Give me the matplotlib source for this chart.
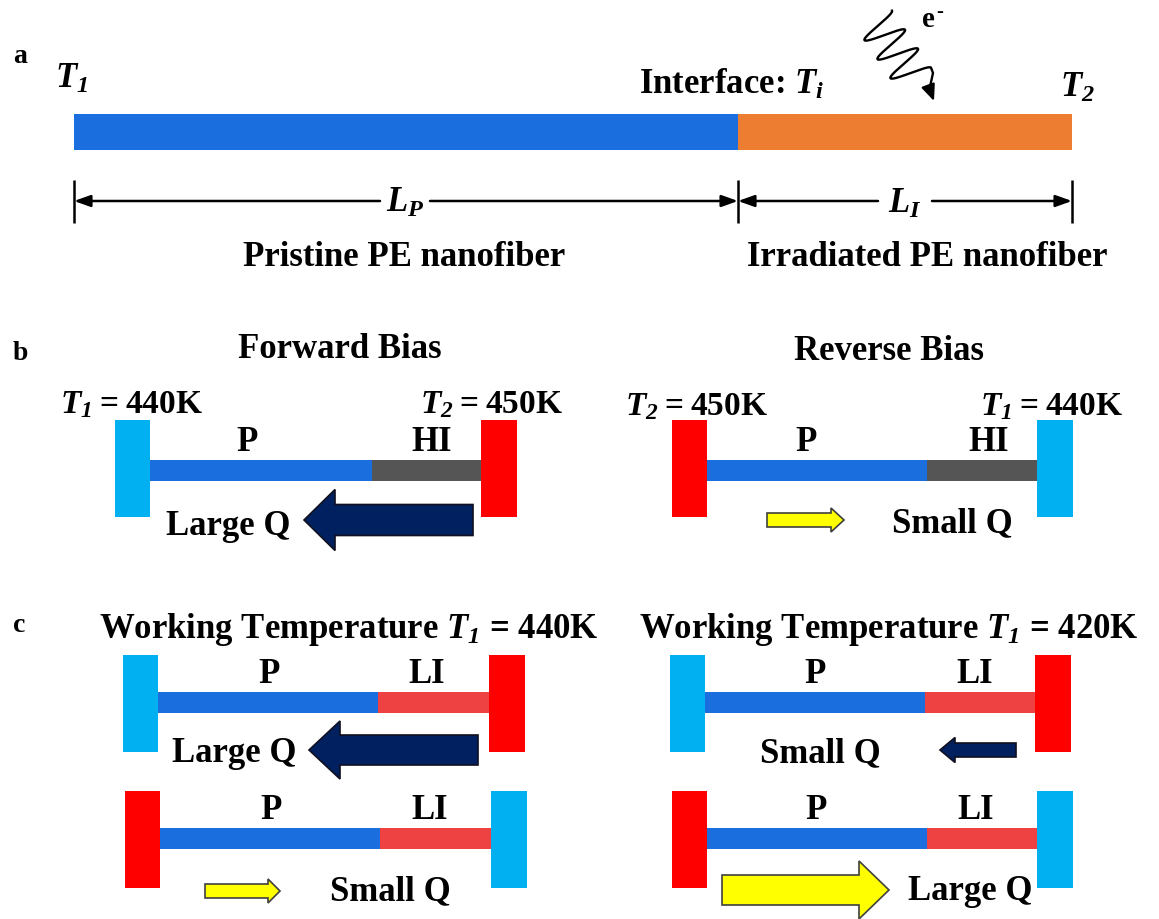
import numpy as np
import matplotlib.pyplot as plt
from matplotlib.patches import Rectangle, Polygon

# pyright: reportUnknownMemberType=false

plt.rcParams["font.family"] = ["Liberation Serif", "DejaVu Serif"]
plt.rcParams["font.weight"] = "bold"
plt.rcParams["mathtext.fontset"] = "custom"
plt.rcParams["mathtext.rm"] = "Liberation Serif:bold"
plt.rcParams["mathtext.it"] = "Liberation Serif:italic:bold"
plt.rcParams["mathtext.bf"] = "Liberation Serif:bold"
# italic digits for subscripts (\mathit sends digits back to roman)
plt.rcParams["mathtext.sf"] = "Liberation Serif:italic:bold"

W, H = 1159, 919
FS = 25

C_PRISTINE = "#1B6EDD"
C_IRRAD = "#ED7D31"
C_COLD = "#00B0F0"
C_HOT = "#FF0000"
C_HI = "#555555"
C_LI = "#EE4242"
C_NAVY = "#002060"
C_YELLOW = "#FFFF00"

# panel a
a_fibres = ["Pristine PE nanofiber", "Irradiated PE nanofiber"]
a_lengths = [r"$L_P$", r"$L_I$"]
a_temps = [r"$T_\mathsf{1}$", r"Interface: $T_i$", r"$T_\mathsf{2}$"]

# panel b
b_titles = ["Forward Bias", "Reverse Bias"]
b_temps = [
    [r"$T_\mathsf{1}$" + "\u2009=\u2009440K", r"$T_\mathsf{2}$" + "\u2009=\u2009450K"],
    [r"$T_\mathsf{2}$" + "\u2009=\u2009450K", r"$T_\mathsf{1}$" + "\u2009=\u2009440K"],
]
b_segments = ["P", "HI"]
b_heat = ["Large Q", "Small Q"]

# panel c
c_titles = [
    r"Working Temperature $T_\mathsf{1}$ = 440K",
    r"Working Temperature $T_\mathsf{1}$ = 420K",
]
c_segments = ["P", "LI"]
c_heat = [["Large Q", "Small Q"], ["Small Q", "Large Q"]]


def txt(ax, x, y, s, size=FS, ha="center"):
    ax.text(x, y, s, fontsize=size, ha=ha, va="baseline", fontweight="bold")


def rod(ax, x0, xs, x1, y, thick, colours):
    ax.add_patch(Rectangle((x0, y), xs - x0, thick, fc=colours[0], lw=0))
    ax.add_patch(Rectangle((xs, y), x1 - xs, thick, fc=colours[1], lw=0))


def block(ax, x, y, w, h, colour):
    ax.add_patch(Rectangle((x, y), w, h, fc=colour, lw=0))


def block_arrow(ax, x_tail, x_tip, yc, shaft, head, head_len, fc, ec):
    d = 1 if x_tip > x_tail else -1
    xb = x_tip - d * head_len
    pts = [
        (x_tail, yc - shaft / 2), (xb, yc - shaft / 2), (xb, yc - head / 2),
        (x_tip, yc), (xb, yc + head / 2), (xb, yc + shaft / 2),
        (x_tail, yc + shaft / 2),
    ]
    ax.add_patch(Polygon(pts, closed=True, fc=fc, ec=ec, lw=1.2,
                         joinstyle="miter"))


def dim_arrow(ax, x_from, x_to, y):
    ax.annotate("", xy=(x_to, y), xytext=(x_from, y),
                arrowprops=dict(arrowstyle="-|>,head_length=0.7,head_width=0.25",
                                color="k", lw=1.8, shrinkA=0, shrinkB=0,
                                mutation_scale=14))


def cell(ax, x_left, x_split, x_right, y_block, bar_off, cold_left, colours,
         labels, label_x):
    # end blocks plus the two-part fibre between them
    bw, bh = 35, 97
    left_col, right_col = (C_COLD, C_HOT) if cold_left else (C_HOT, C_COLD)
    block(ax, x_left, y_block, bw, bh, left_col)
    block(ax, x_right, y_block, bw + 1, bh, right_col)
    rod(ax, x_left + bw, x_split, x_right, y_block + bar_off, 21, colours)
    for lx, lab in zip(label_x, labels):
        txt(ax, lx, y_block + bar_off - 9, lab)


fig = plt.figure(figsize=(W / 100, H / 100), dpi=100)
ax = fig.add_axes((0, 0, 1, 1))
ax.set_xlim(0, W)
ax.set_ylim(H, 0)
ax.axis("off")

# ---- a ----
txt(ax, 13, 63, "a", size=20, ha="left")
rod(ax, 74, 738, 1072, 114, 36, [C_PRISTINE, C_IRRAD])
txt(ax, 55, 88, a_temps[0], ha="left")
txt(ax, 639, 94, a_temps[1], ha="left")
txt(ax, 1060, 97, a_temps[2], ha="left")

for xt in (74, 738, 1072):
    ax.plot([xt, xt], [180, 223], color="k", lw=1.8, solid_capstyle="butt")
dim_arrow(ax, 380, 74, 201)
dim_arrow(ax, 430, 738, 201)
dim_arrow(ax, 878, 738, 201)
dim_arrow(ax, 932, 1072, 201)
txt(ax, 405, 212, a_lengths[0])
txt(ax, 905, 213, a_lengths[1])
txt(ax, 404, 266, a_fibres[0])
txt(ax, 927, 266, a_fibres[1])

# electron beam squiggle
u = np.linspace(0, 6, 300)
wx = 875 + 6.5 * u + 17 * np.cos(np.pi * u)
wy = 20.7 + 9.5 * u - 10 * np.cos(np.pi * u)
wx = np.concatenate([wx, [933, 931, 929.5]])
wy = np.concatenate([wy, [73, 82, 89]])
ax.plot(wx, wy, color="k", lw=1.7, solid_joinstyle="round")
ax.annotate("", xy=(934, 101), xytext=(929.5, 89),
            arrowprops=dict(arrowstyle="-|>,head_length=0.7,head_width=0.3",
                            color="k", lw=1.6, shrinkA=0, shrinkB=0,
                            mutation_scale=14))
txt(ax, 922, 27, "e", size=21, ha="left")
txt(ax, 936, 17, "-", size=15, ha="left")

# ---- b ----
txt(ax, 13, 360, "b", size=20, ha="left")
txt(ax, 340, 358, b_titles[0])
txt(ax, 889, 360, b_titles[1])
txt(ax, 60, 413, b_temps[0][0], size=24, ha="left")
txt(ax, 420, 413, b_temps[0][1], size=24, ha="left")
txt(ax, 625, 415, b_temps[1][0], size=24, ha="left")
txt(ax, 980, 415, b_temps[1][1], size=24, ha="left")

cell(ax, 115, 372, 481, 420, 40, True, [C_PRISTINE, C_HI], b_segments, (247, 432))
cell(ax, 672, 927, 1037, 420, 40, False, [C_PRISTINE, C_HI], b_segments, (806, 989))

block_arrow(ax, 473, 304, 520, 31, 61, 31, C_NAVY, "#101020")
txt(ax, 228, 535, b_heat[0])
block_arrow(ax, 767, 844, 520, 14, 24, 13, C_YELLOW, "#404040")
txt(ax, 952, 532, b_heat[1])

# ---- c ----
txt(ax, 13, 632, "c", size=20, ha="left")
txt(ax, 349, 638, c_titles[0])
txt(ax, 889, 638, c_titles[1])

cell(ax, 123, 378, 489, 655, 37, True, [C_PRISTINE, C_LI], c_segments, (269, 427))
cell(ax, 125, 380, 491, 791, 37, False, [C_PRISTINE, C_LI], c_segments, (271, 430))
cell(ax, 670, 925, 1035, 655, 37, True, [C_PRISTINE, C_LI], c_segments, (815, 975))
cell(ax, 672, 927, 1037, 791, 37, False, [C_PRISTINE, C_LI], c_segments, (816, 976))

block_arrow(ax, 478, 309, 750, 30, 58, 31, C_NAVY, "#101020")
txt(ax, 234, 762, c_heat[0][0])
block_arrow(ax, 205, 280, 891, 14, 24, 12, C_YELLOW, "#404040")
txt(ax, 390, 900, c_heat[0][1])

block_arrow(ax, 1016, 940, 750, 14, 25, 15, C_NAVY, "#101020")
txt(ax, 820, 762, c_heat[1][0])
block_arrow(ax, 722, 889, 890, 30, 58, 30, C_YELLOW, "#404040")
txt(ax, 970, 900, c_heat[1][1])

fig.savefig("out.png", dpi=100)
